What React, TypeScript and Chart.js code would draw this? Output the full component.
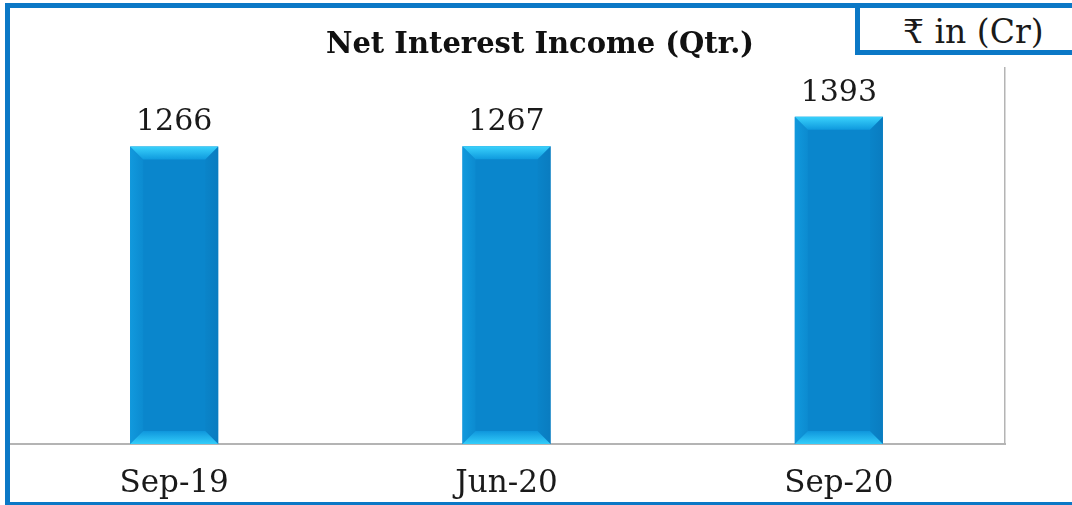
import React, { useEffect, useRef } from "react";
import { Chart, registerables } from "chart.js";

Chart.register(...registerables);

const categories = ["Sep-19", "Jun-20", "Sep-20"];
const values = [1266, 1267, 1393];
const titleText = "Net Interest Income (Qtr.)";
const unitText = "₹ in (Cr)";
const yMin = 0;
const yMax = 1600;

const SERIF = "'DejaVu Serif', 'Liberation Serif', serif";
const BLUE = "#0b78c6";

const bevelPlugin = {
  id: "bevelBars",
  afterDatasetsDraw(chart: any) {
    const ctx = chart.ctx as CanvasRenderingContext2D;
    const meta = chart.getDatasetMeta(0);
    const bv = 13;
    ctx.save();
    meta.data.forEach((el: any, i: number) => {
      const p = el.getProps(["x", "y", "base", "width"], true);
      const l = p.x - p.width / 2;
      const r = p.x + p.width / 2;
      const t = p.y;
      const b = p.base;
      // left strip
      let g = ctx.createLinearGradient(l, 0, l + bv, 0);
      g.addColorStop(0, "#1199dd");
      g.addColorStop(1, "#0c8bd0");
      ctx.beginPath();
      ctx.moveTo(l, t);
      ctx.lineTo(l + bv, t + bv);
      ctx.lineTo(l + bv, b - bv);
      ctx.lineTo(l, b);
      ctx.closePath();
      ctx.fillStyle = g;
      ctx.fill();
      // right strip
      g = ctx.createLinearGradient(r - bv, 0, r, 0);
      g.addColorStop(0, "#0a84c9");
      g.addColorStop(1, "#0a7cc0");
      ctx.beginPath();
      ctx.moveTo(r, t);
      ctx.lineTo(r - bv, t + bv);
      ctx.lineTo(r - bv, b - bv);
      ctx.lineTo(r, b);
      ctx.closePath();
      ctx.fillStyle = g;
      ctx.fill();
      // top bevel
      g = ctx.createLinearGradient(0, t, 0, t + bv);
      g.addColorStop(0, "#3ad2fc");
      g.addColorStop(1, "#0f9ade");
      ctx.beginPath();
      ctx.moveTo(l, t);
      ctx.lineTo(r, t);
      ctx.lineTo(r - bv, t + bv);
      ctx.lineTo(l + bv, t + bv);
      ctx.closePath();
      ctx.fillStyle = g;
      ctx.fill();
      // bottom bevel
      g = ctx.createLinearGradient(0, b - bv, 0, b);
      g.addColorStop(0, "#0f96dc");
      g.addColorStop(1, "#33cdfa");
      ctx.beginPath();
      ctx.moveTo(l, b);
      ctx.lineTo(r, b);
      ctx.lineTo(r - bv, b - bv);
      ctx.lineTo(l + bv, b - bv);
      ctx.closePath();
      ctx.fillStyle = g;
      ctx.fill();
      // value label
      ctx.fillStyle = "#1a1a1a";
      ctx.font = `30px ${SERIF}`;
      ctx.textAlign = "center";
      ctx.textBaseline = "alphabetic";
      ctx.fillText(String(values[i]), p.x, t - 16);
    });
    ctx.restore();
  },
};

export default function App() {
  const ref = useRef<HTMLCanvasElement | null>(null);

  useEffect(() => {
    if (!ref.current) return;
    const chart = new Chart(ref.current, {
      type: "bar",
      data: {
        labels: categories,
        datasets: [
          {
            data: values,
            backgroundColor: "#0a86cc",
            borderWidth: 0,
            categoryPercentage: 1,
            barPercentage: 0.265,
          },
        ],
      },
      options: {
        responsive: false,
        animation: false,
        devicePixelRatio: 1,
        layout: { padding: { left: 8, right: 0, top: 0, bottom: 0 } },
        plugins: {
          legend: { display: false },
          tooltip: { enabled: false },
          title: {
            display: true,
            text: titleText,
            color: "#111111",
            font: { family: SERIF, size: 29, weight: "bold", lineHeight: 1.2 },
            padding: { top: 28, bottom: 5.2 },
          },
        },
        scales: {
          x: {
            grid: { display: false, drawTicks: false, tickLength: 0 },
            border: { display: true, color: "#b4b4b4", width: 2 },
            ticks: {
              color: "#1a1a1a",
              font: { family: SERIF, size: 31, lineHeight: 1.2 },
              padding: 21,
              maxRotation: 0,
            },
            afterFit: (s: any) => {
              s.height = 61;
            },
          },
          y: {
            position: "right",
            min: yMin,
            max: yMax,
            grid: { display: false, drawTicks: false, tickLength: 0 },
            border: { display: true, color: "#b4b4b4", width: 1.5 },
            ticks: { display: false },
            afterFit: (s: any) => {
              s.width = 67;
            },
          },
        },
      },
      plugins: [bevelPlugin],
    });
    return () => chart.destroy();
  }, []);

  return (
    <div
      style={{
        position: "absolute",
        left: 0,
        top: 0,
        width: 1072,
        height: 505,
        overflow: "hidden",
        background: "#ffffff",
      }}
    >
      <canvas
        ref={ref}
        width={1072}
        height={505}
        style={{ position: "absolute", left: 0, top: 0, width: 1072, height: 505 }}
      />
      <div
        style={{
          position: "absolute",
          left: 5,
          top: 3,
          width: 1100,
          height: 494,
          borderLeft: `5px solid ${BLUE}`,
          borderTop: `5px solid ${BLUE}`,
          borderBottom: `3px solid ${BLUE}`,
          pointerEvents: "none",
        }}
      />
      <div
        style={{
          position: "absolute",
          left: 855,
          top: 3,
          width: 250,
          height: 42,
          borderLeft: `5px solid ${BLUE}`,
          borderTop: `5px solid ${BLUE}`,
          borderBottom: `5px solid ${BLUE}`,
          background: "#ffffff",
          boxSizing: "content-box",
        }}
      >
        <div
          style={{
            position: "absolute",
            left: 43,
            top: 3,
            height: 42,
            lineHeight: "42px",
            fontFamily: SERIF,
            fontSize: 33,
            color: "#1a1a1a",
            whiteSpace: "nowrap",
          }}
        >
          {unitText}
        </div>
      </div>
    </div>
  );
}
